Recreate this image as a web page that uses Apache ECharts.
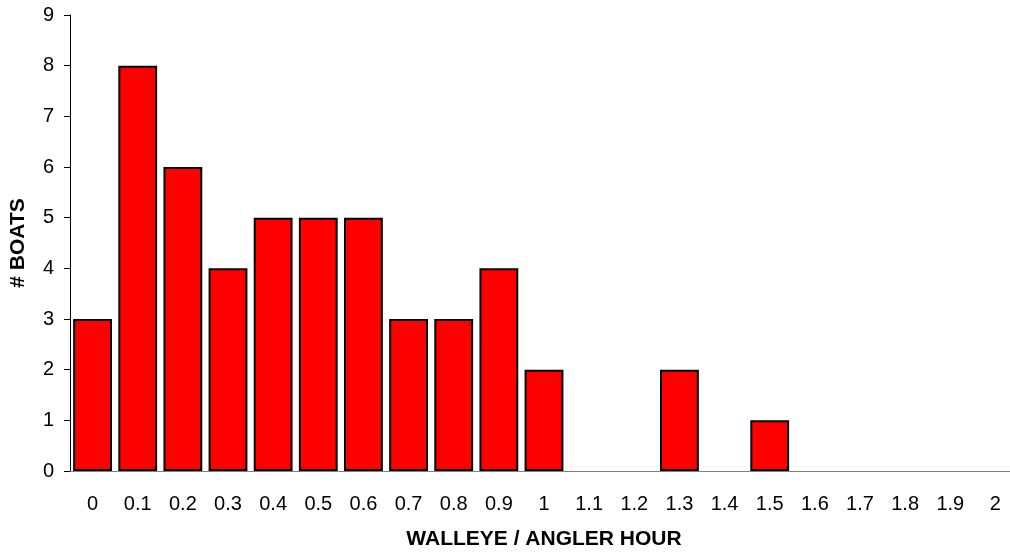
<!DOCTYPE html>
<html><head><meta charset="utf-8">
<script src="https://cdn.jsdelivr.net/npm/echarts@6/dist/echarts.min.js"></script>
<style>html,body{margin:0;padding:0;background:#fff;overflow:hidden;width:1010px;height:552px}#c{width:1019px;height:552px}</style>
</head><body><div id="c"></div>
<script>
const categories = ['0','0.1','0.2','0.3','0.4','0.5','0.6','0.7','0.8','0.9','1','1.1','1.2','1.3','1.4','1.5','1.6','1.7','1.8','1.9','2'];
const boats = [3,8,6,4,5,5,5,3,3,4,2,0,0,2,0,1,0,0,0,0,0];
const yTicks = [0,1,2,3,4,5,6,7,8,9];
const chart = echarts.init(document.getElementById('c'), null, {renderer:'canvas'});
const font = 'Liberation Sans, Arial, sans-serif';
chart.setOption({
  animation:false,
  grid:{left:70, top:15, right:1, bottom:81, containLabel:false, outerBoundsMode:'none'},
  xAxis:{
    type:'category', data:categories,
    name:'WALLEYE / ANGLER HOUR', nameLocation:'middle', nameGap:58,
    nameTextStyle:{fontFamily:font, fontSize:21, fontWeight:'bold', color:'#000'},
    axisLine:{lineStyle:{color:'#808080', width:1}},
    axisTick:{alignWithLabel:false, length:6, lineStyle:{color:'#000'}},
    axisLabel:{fontFamily:font, fontSize:20, color:'#000', margin:23, interval:0}
  },
  yAxis:{
    type:'value', min:0, max:9, interval:1,
    name:'# BOATS', nameLocation:'middle', nameGap:41, nameRotate:90,
    nameTextStyle:{fontFamily:font, fontSize:21, fontWeight:'bold', color:'#000'},
    axisLine:{show:true, lineStyle:{color:'#000', width:1}},
    axisTick:{show:true, length:6, lineStyle:{color:'#000'}},
    splitLine:{show:false},
    axisLabel:{fontFamily:font, fontSize:20, color:'#000', margin:16,
      formatter:v=>yTicks.includes(v)?String(v):''}
  },
  series:[{
    type:'bar',
    data:boats.map(v=>v===0?null:v),
    barCategoryGap:'14%',
    itemStyle:{color:'#ff0000', borderColor:'#000', borderWidth:2}
  }]
});
</script></body></html>
